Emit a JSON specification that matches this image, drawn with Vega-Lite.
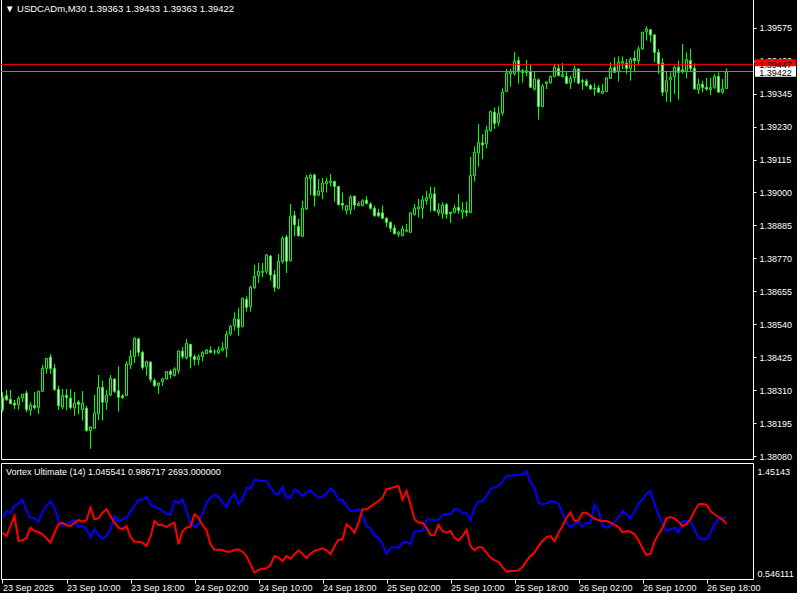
{
"$schema": "https://vega.github.io/schema/vega-lite/v6.json",
"background": "#000000",
"padding": {"left": -2, "top": -2, "right": 0, "bottom": 0},
"spacing": 0,
"config": {
  "view": {"stroke": "#ffffff", "strokeWidth": 1},
  "font": "Liberation Sans",
  "axis": {"labelColor": "#ffffff", "labelFont": "Liberation Sans", "labelFontSize": 9, "tickColor": "#ffffff", "domain": false, "grid": false, "title": null, "labelOverlap": false, "labelFlush": false},
  "title": {"color": "#ffffff", "font": "Liberation Sans", "fontWeight": "normal", "anchor": "start", "frame": "group", "baseline": "middle"}
},
"datasets": {
"px": [{"name": "ask", "price": 1.39447, "label": "1.39447"}, {"name": "bid", "price": 1.39422, "label": "1.39422"}],
"bars": [
{"i":0,"o":1.38285,"h":1.38303,"l":1.38233,"c":1.38242,"vp":1.041,"vm":0.909},
{"i":1,"o":1.38291,"h":1.38311,"l":1.38272,"c":1.38277,"vp":1.100,"vm":0.880},
{"i":2,"o":1.38278,"h":1.38311,"l":1.38261,"c":1.38263,"vp":1.085,"vm":0.968},
{"i":3,"o":1.38265,"h":1.38276,"l":1.38244,"c":1.38258,"vp":1.144,"vm":1.056},
{"i":4,"o":1.38260,"h":1.38289,"l":1.38242,"c":1.38282,"vp":1.164,"vm":0.836},
{"i":5,"o":1.38283,"h":1.38297,"l":1.38268,"c":1.38296,"vp":1.200,"vm":0.842},
{"i":6,"o":1.38300,"h":1.38308,"l":1.38233,"c":1.38242,"vp":1.100,"vm":0.865},
{"i":7,"o":1.38240,"h":1.38268,"l":1.38221,"c":1.38258,"vp":1.041,"vm":0.953},
{"i":8,"o":1.38257,"h":1.38303,"l":1.38242,"c":1.38249,"vp":1.035,"vm":0.924},
{"i":9,"o":1.38250,"h":1.38308,"l":1.38227,"c":1.38306,"vp":1.006,"vm":0.915},
{"i":10,"o":1.38306,"h":1.38398,"l":1.38303,"c":1.38386,"vp":1.094,"vm":0.895},
{"i":11,"o":1.38386,"h":1.38421,"l":1.38367,"c":1.38421,"vp":1.144,"vm":0.860},
{"i":12,"o":1.38425,"h":1.38436,"l":1.38367,"c":1.38386,"vp":1.188,"vm":0.821},
{"i":13,"o":1.38386,"h":1.38401,"l":1.38308,"c":1.38312,"vp":1.129,"vm":0.909},
{"i":14,"o":1.38313,"h":1.38326,"l":1.38241,"c":1.38256,"vp":1.012,"vm":0.983},
{"i":15,"o":1.38251,"h":1.38314,"l":1.38244,"c":1.38291,"vp":0.968,"vm":0.997},
{"i":16,"o":1.38292,"h":1.38314,"l":1.38239,"c":1.38284,"vp":0.989,"vm":0.974},
{"i":17,"o":1.38282,"h":1.38314,"l":1.38244,"c":1.38249,"vp":1.006,"vm":0.968},
{"i":18,"o":1.38248,"h":1.38303,"l":1.38221,"c":1.38264,"vp":1.018,"vm":0.997},
{"i":19,"o":1.38269,"h":1.38275,"l":1.38226,"c":1.38260,"vp":0.959,"vm":1.021},
{"i":20,"o":1.38242,"h":1.38307,"l":1.38204,"c":1.38264,"vp":0.968,"vm":1.006},
{"i":21,"o":1.38247,"h":1.38256,"l":1.38165,"c":1.38169,"vp":0.939,"vm":1.018},
{"i":22,"o":1.38169,"h":1.38182,"l":1.38105,"c":1.38182,"vp":0.871,"vm":1.129},
{"i":23,"o":1.38177,"h":1.38293,"l":1.38175,"c":1.38230,"vp":0.939,"vm":1.027},
{"i":24,"o":1.38228,"h":1.38363,"l":1.38206,"c":1.38320,"vp":0.889,"vm":1.035},
{"i":25,"o":1.38320,"h":1.38343,"l":1.38204,"c":1.38268,"vp":0.860,"vm":1.085},
{"i":26,"o":1.38268,"h":1.38311,"l":1.38242,"c":1.38293,"vp":0.880,"vm":1.115},
{"i":27,"o":1.38293,"h":1.38363,"l":1.38289,"c":1.38351,"vp":0.939,"vm":1.056},
{"i":28,"o":1.38349,"h":1.38351,"l":1.38300,"c":1.38306,"vp":1.056,"vm":0.997},
{"i":29,"o":1.38308,"h":1.38393,"l":1.38235,"c":1.38285,"vp":1.006,"vm":0.953},
{"i":30,"o":1.38290,"h":1.38297,"l":1.38279,"c":1.38284,"vp":1.027,"vm":0.939},
{"i":31,"o":1.38291,"h":1.38411,"l":1.38289,"c":1.38401,"vp":1.035,"vm":0.968},
{"i":32,"o":1.38398,"h":1.38450,"l":1.38384,"c":1.38428,"vp":1.100,"vm":0.871},
{"i":33,"o":1.38428,"h":1.38495,"l":1.38405,"c":1.38491,"vp":1.144,"vm":0.830},
{"i":34,"o":1.38489,"h":1.38493,"l":1.38428,"c":1.38442,"vp":1.194,"vm":0.830},
{"i":35,"o":1.38442,"h":1.38447,"l":1.38381,"c":1.38389,"vp":1.202,"vm":0.821},
{"i":36,"o":1.38392,"h":1.38413,"l":1.38361,"c":1.38410,"vp":1.223,"vm":0.792},
{"i":37,"o":1.38408,"h":1.38411,"l":1.38338,"c":1.38347,"vp":1.158,"vm":0.871},
{"i":38,"o":1.38344,"h":1.38351,"l":1.38321,"c":1.38326,"vp":1.135,"vm":1.012},
{"i":39,"o":1.38326,"h":1.38338,"l":1.38297,"c":1.38335,"vp":1.123,"vm":0.977},
{"i":40,"o":1.38340,"h":1.38354,"l":1.38324,"c":1.38349,"vp":1.100,"vm":0.977},
{"i":41,"o":1.38349,"h":1.38376,"l":1.38347,"c":1.38375,"vp":1.076,"vm":0.959},
{"i":42,"o":1.38376,"h":1.38382,"l":1.38351,"c":1.38365,"vp":1.071,"vm":0.983},
{"i":43,"o":1.38361,"h":1.38390,"l":1.38358,"c":1.38384,"vp":1.188,"vm":0.997},
{"i":44,"o":1.38378,"h":1.38449,"l":1.38367,"c":1.38447,"vp":1.167,"vm":0.807},
{"i":45,"o":1.38446,"h":1.38460,"l":1.38419,"c":1.38427,"vp":1.202,"vm":0.924},
{"i":46,"o":1.38423,"h":1.38489,"l":1.38417,"c":1.38474,"vp":1.100,"vm":0.953},
{"i":47,"o":1.38470,"h":1.38470,"l":1.38386,"c":1.38427,"vp":0.997,"vm":0.962},
{"i":48,"o":1.38427,"h":1.38435,"l":1.38396,"c":1.38417,"vp":0.959,"vm":1.071},
{"i":49,"o":1.38417,"h":1.38435,"l":1.38398,"c":1.38427,"vp":0.983,"vm":1.041},
{"i":50,"o":1.38427,"h":1.38445,"l":1.38410,"c":1.38442,"vp":1.076,"vm":0.977},
{"i":51,"o":1.38438,"h":1.38454,"l":1.38435,"c":1.38450,"vp":1.173,"vm":0.930},
{"i":52,"o":1.38449,"h":1.38463,"l":1.38438,"c":1.38442,"vp":1.217,"vm":0.807},
{"i":53,"o":1.38444,"h":1.38453,"l":1.38434,"c":1.38444,"vp":1.246,"vm":0.760},
{"i":54,"o":1.38441,"h":1.38463,"l":1.38435,"c":1.38450,"vp":1.223,"vm":0.760},
{"i":55,"o":1.38449,"h":1.38477,"l":1.38445,"c":1.38457,"vp":1.173,"vm":0.757},
{"i":56,"o":1.38456,"h":1.38517,"l":1.38424,"c":1.38505,"vp":1.135,"vm":0.742},
{"i":57,"o":1.38506,"h":1.38538,"l":1.38500,"c":1.38533,"vp":1.211,"vm":0.742},
{"i":58,"o":1.38535,"h":1.38582,"l":1.38518,"c":1.38559,"vp":1.252,"vm":0.757},
{"i":59,"o":1.38557,"h":1.38596,"l":1.38500,"c":1.38529,"vp":1.158,"vm":0.763},
{"i":60,"o":1.38532,"h":1.38633,"l":1.38529,"c":1.38631,"vp":1.202,"vm":0.742},
{"i":61,"o":1.38627,"h":1.38638,"l":1.38584,"c":1.38599,"vp":1.305,"vm":0.704},
{"i":62,"o":1.38602,"h":1.38675,"l":1.38584,"c":1.38669,"vp":1.296,"vm":0.631},
{"i":63,"o":1.38668,"h":1.38747,"l":1.38663,"c":1.38707,"vp":1.378,"vm":0.558},
{"i":64,"o":1.38710,"h":1.38754,"l":1.38684,"c":1.38725,"vp":1.369,"vm":0.581},
{"i":65,"o":1.38721,"h":1.38754,"l":1.38704,"c":1.38725,"vp":1.364,"vm":0.593},
{"i":66,"o":1.38725,"h":1.38785,"l":1.38716,"c":1.38782,"vp":1.364,"vm":0.596},
{"i":67,"o":1.38778,"h":1.38782,"l":1.38692,"c":1.38712,"vp":1.311,"vm":0.625},
{"i":68,"o":1.38713,"h":1.38730,"l":1.38654,"c":1.38669,"vp":1.252,"vm":0.704},
{"i":69,"o":1.38666,"h":1.38785,"l":1.38663,"c":1.38760,"vp":1.246,"vm":0.690},
{"i":70,"o":1.38759,"h":1.38847,"l":1.38751,"c":1.38840,"vp":1.311,"vm":0.660},
{"i":71,"o":1.38844,"h":1.38852,"l":1.38719,"c":1.38760,"vp":1.217,"vm":0.704},
{"i":72,"o":1.38762,"h":1.38960,"l":1.38759,"c":1.38917,"vp":1.217,"vm":0.681},
{"i":73,"o":1.38919,"h":1.38935,"l":1.38847,"c":1.38887,"vp":1.290,"vm":0.719},
{"i":74,"o":1.38881,"h":1.38908,"l":1.38846,"c":1.38849,"vp":1.270,"vm":0.754},
{"i":75,"o":1.38847,"h":1.38971,"l":1.38846,"c":1.38945,"vp":1.232,"vm":0.725},
{"i":76,"o":1.38942,"h":1.39061,"l":1.38939,"c":1.39053,"vp":1.261,"vm":0.684},
{"i":77,"o":1.39049,"h":1.39065,"l":1.38991,"c":1.39061,"vp":1.282,"vm":0.725},
{"i":78,"o":1.39061,"h":1.39066,"l":1.38951,"c":1.38989,"vp":1.246,"vm":0.748},
{"i":79,"o":1.38991,"h":1.39047,"l":1.38987,"c":1.39005,"vp":1.223,"vm":0.760},
{"i":80,"o":1.39003,"h":1.39051,"l":1.38977,"c":1.39033,"vp":1.226,"vm":0.772},
{"i":81,"o":1.39031,"h":1.39051,"l":1.39000,"c":1.39038,"vp":1.252,"vm":0.754},
{"i":82,"o":1.39034,"h":1.39065,"l":1.39021,"c":1.39040,"vp":1.299,"vm":0.719},
{"i":83,"o":1.39039,"h":1.39039,"l":1.38968,"c":1.39021,"vp":1.270,"vm":0.792},
{"i":84,"o":1.39021,"h":1.39021,"l":1.38954,"c":1.38958,"vp":1.194,"vm":0.845},
{"i":85,"o":1.38962,"h":1.39000,"l":1.38940,"c":1.38956,"vp":1.202,"vm":0.851},
{"i":86,"o":1.38937,"h":1.38956,"l":1.38923,"c":1.38954,"vp":1.144,"vm":0.983},
{"i":87,"o":1.38940,"h":1.38991,"l":1.38923,"c":1.38983,"vp":1.100,"vm":0.953},
{"i":88,"o":1.38987,"h":1.38989,"l":1.38940,"c":1.38956,"vp":1.100,"vm":0.909},
{"i":89,"o":1.38954,"h":1.38969,"l":1.38952,"c":1.38961,"vp":1.115,"vm":0.997},
{"i":90,"o":1.38954,"h":1.38977,"l":1.38951,"c":1.38971,"vp":1.065,"vm":1.115},
{"i":91,"o":1.38973,"h":1.38987,"l":1.38958,"c":1.38962,"vp":0.968,"vm":1.115},
{"i":92,"o":1.38960,"h":1.38966,"l":1.38940,"c":1.38945,"vp":0.947,"vm":1.138},
{"i":93,"o":1.38945,"h":1.38954,"l":1.38915,"c":1.38919,"vp":0.880,"vm":1.164},
{"i":94,"o":1.38929,"h":1.38942,"l":1.38913,"c":1.38919,"vp":0.865,"vm":1.188},
{"i":95,"o":1.38929,"h":1.38954,"l":1.38908,"c":1.38910,"vp":0.807,"vm":1.217},
{"i":96,"o":1.38910,"h":1.38913,"l":1.38879,"c":1.38896,"vp":0.725,"vm":1.290},
{"i":97,"o":1.38896,"h":1.38898,"l":1.38863,"c":1.38875,"vp":0.772,"vm":1.299},
{"i":98,"o":1.38876,"h":1.38887,"l":1.38854,"c":1.38856,"vp":0.783,"vm":1.311},
{"i":99,"o":1.38854,"h":1.38866,"l":1.38845,"c":1.38860,"vp":0.778,"vm":1.320},
{"i":100,"o":1.38849,"h":1.38884,"l":1.38847,"c":1.38873,"vp":0.821,"vm":1.202},
{"i":101,"o":1.38865,"h":1.38890,"l":1.38861,"c":1.38869,"vp":0.827,"vm":1.276},
{"i":102,"o":1.38861,"h":1.38931,"l":1.38859,"c":1.38929,"vp":0.807,"vm":1.158},
{"i":103,"o":1.38923,"h":1.38960,"l":1.38919,"c":1.38946,"vp":0.918,"vm":1.027},
{"i":104,"o":1.38942,"h":1.38977,"l":1.38913,"c":1.38949,"vp":0.924,"vm":0.997},
{"i":105,"o":1.38945,"h":1.38989,"l":1.38908,"c":1.38974,"vp":0.924,"vm":0.997},
{"i":106,"o":1.38972,"h":1.39005,"l":1.38957,"c":1.38982,"vp":1.024,"vm":0.953},
{"i":107,"o":1.38980,"h":1.39020,"l":1.38933,"c":1.38995,"vp":1.027,"vm":0.889},
{"i":108,"o":1.38995,"h":1.39019,"l":1.38933,"c":1.38937,"vp":1.021,"vm":0.889},
{"i":109,"o":1.38929,"h":1.38963,"l":1.38919,"c":1.38939,"vp":1.024,"vm":0.977},
{"i":110,"o":1.38927,"h":1.38966,"l":1.38908,"c":1.38956,"vp":1.062,"vm":0.924},
{"i":111,"o":1.38958,"h":1.38963,"l":1.38908,"c":1.38924,"vp":1.071,"vm":0.909},
{"i":112,"o":1.38931,"h":1.38931,"l":1.38894,"c":1.38927,"vp":1.071,"vm":0.924},
{"i":113,"o":1.38931,"h":1.38958,"l":1.38927,"c":1.38946,"vp":1.115,"vm":0.865},
{"i":114,"o":1.38948,"h":1.38995,"l":1.38925,"c":1.38937,"vp":1.115,"vm":0.842},
{"i":115,"o":1.38931,"h":1.38966,"l":1.38908,"c":1.38939,"vp":1.079,"vm":0.880},
{"i":116,"o":1.38936,"h":1.38968,"l":1.38916,"c":1.38930,"vp":1.079,"vm":0.933},
{"i":117,"o":1.38930,"h":1.39124,"l":1.38929,"c":1.39059,"vp":1.018,"vm":0.792},
{"i":118,"o":1.39059,"h":1.39161,"l":1.39038,"c":1.39140,"vp":1.129,"vm":0.754},
{"i":119,"o":1.39138,"h":1.39239,"l":1.39090,"c":1.39175,"vp":1.182,"vm":0.783},
{"i":120,"o":1.39173,"h":1.39204,"l":1.39117,"c":1.39166,"vp":1.188,"vm":0.778},
{"i":121,"o":1.39170,"h":1.39233,"l":1.39154,"c":1.39217,"vp":1.232,"vm":0.734},
{"i":122,"o":1.39216,"h":1.39286,"l":1.39212,"c":1.39282,"vp":1.296,"vm":0.690},
{"i":123,"o":1.39280,"h":1.39297,"l":1.39222,"c":1.39241,"vp":1.305,"vm":0.666},
{"i":124,"o":1.39244,"h":1.39301,"l":1.39231,"c":1.39276,"vp":1.320,"vm":0.654},
{"i":125,"o":1.39277,"h":1.39363,"l":1.39268,"c":1.39350,"vp":1.358,"vm":0.608},
{"i":126,"o":1.39352,"h":1.39431,"l":1.39350,"c":1.39417,"vp":1.408,"vm":0.567},
{"i":127,"o":1.39414,"h":1.39431,"l":1.39369,"c":1.39422,"vp":1.410,"vm":0.572},
{"i":128,"o":1.39414,"h":1.39491,"l":1.39408,"c":1.39458,"vp":1.416,"vm":0.572},
{"i":129,"o":1.39461,"h":1.39474,"l":1.39380,"c":1.39424,"vp":1.416,"vm":0.578},
{"i":130,"o":1.39425,"h":1.39431,"l":1.39384,"c":1.39419,"vp":1.422,"vm":0.608},
{"i":131,"o":1.39419,"h":1.39462,"l":1.39406,"c":1.39425,"vp":1.451,"vm":0.660},
{"i":132,"o":1.39422,"h":1.39448,"l":1.39365,"c":1.39367,"vp":1.349,"vm":0.704},
{"i":133,"o":1.39361,"h":1.39423,"l":1.39355,"c":1.39396,"vp":1.305,"vm":0.734},
{"i":134,"o":1.39393,"h":1.39398,"l":1.39254,"c":1.39300,"vp":1.173,"vm":0.792},
{"i":135,"o":1.39300,"h":1.39379,"l":1.39297,"c":1.39371,"vp":1.158,"vm":0.836},
{"i":136,"o":1.39380,"h":1.39386,"l":1.39361,"c":1.39386,"vp":1.167,"vm":0.871},
{"i":137,"o":1.39384,"h":1.39408,"l":1.39379,"c":1.39405,"vp":1.188,"vm":0.880},
{"i":138,"o":1.39405,"h":1.39448,"l":1.39402,"c":1.39437,"vp":1.182,"vm":0.836},
{"i":139,"o":1.39433,"h":1.39448,"l":1.39405,"c":1.39408,"vp":1.164,"vm":0.909},
{"i":140,"o":1.39405,"h":1.39452,"l":1.39401,"c":1.39411,"vp":1.085,"vm":0.968},
{"i":141,"o":1.39405,"h":1.39423,"l":1.39378,"c":1.39381,"vp":0.997,"vm":1.041},
{"i":142,"o":1.39382,"h":1.39408,"l":1.39361,"c":1.39398,"vp":0.959,"vm":1.085},
{"i":143,"o":1.39401,"h":1.39443,"l":1.39384,"c":1.39431,"vp":0.983,"vm":1.012},
{"i":144,"o":1.39431,"h":1.39433,"l":1.39378,"c":1.39381,"vp":1.006,"vm":1.018},
{"i":145,"o":1.39390,"h":1.39396,"l":1.39358,"c":1.39386,"vp":0.959,"vm":1.085},
{"i":146,"o":1.39389,"h":1.39396,"l":1.39369,"c":1.39373,"vp":0.997,"vm":1.085},
{"i":147,"o":1.39373,"h":1.39379,"l":1.39358,"c":1.39361,"vp":0.997,"vm":1.056},
{"i":148,"o":1.39364,"h":1.39381,"l":1.39338,"c":1.39361,"vp":1.158,"vm":1.035},
{"i":149,"o":1.39365,"h":1.39375,"l":1.39347,"c":1.39350,"vp":1.100,"vm":1.018},
{"i":150,"o":1.39346,"h":1.39379,"l":1.39344,"c":1.39354,"vp":0.968,"vm":1.012},
{"i":151,"o":1.39352,"h":1.39402,"l":1.39350,"c":1.39400,"vp":0.953,"vm":1.012},
{"i":152,"o":1.39398,"h":1.39454,"l":1.39396,"c":1.39434,"vp":0.968,"vm":0.997},
{"i":153,"o":1.39436,"h":1.39472,"l":1.39417,"c":1.39419,"vp":1.006,"vm":0.977},
{"i":154,"o":1.39422,"h":1.39475,"l":1.39387,"c":1.39454,"vp":1.041,"vm":0.959},
{"i":155,"o":1.39451,"h":1.39475,"l":1.39431,"c":1.39457,"vp":1.100,"vm":0.912},
{"i":156,"o":1.39451,"h":1.39466,"l":1.39414,"c":1.39433,"vp":1.071,"vm":0.924},
{"i":157,"o":1.39433,"h":1.39472,"l":1.39390,"c":1.39464,"vp":1.035,"vm":0.918},
{"i":158,"o":1.39468,"h":1.39495,"l":1.39424,"c":1.39460,"vp":1.094,"vm":0.895},
{"i":159,"o":1.39460,"h":1.39510,"l":1.39443,"c":1.39501,"vp":1.164,"vm":0.842},
{"i":160,"o":1.39501,"h":1.39561,"l":1.39498,"c":1.39559,"vp":1.202,"vm":0.772},
{"i":161,"o":1.39561,"h":1.39580,"l":1.39530,"c":1.39571,"vp":1.252,"vm":0.713},
{"i":162,"o":1.39568,"h":1.39571,"l":1.39524,"c":1.39550,"vp":1.276,"vm":0.725},
{"i":163,"o":1.39550,"h":1.39553,"l":1.39454,"c":1.39489,"vp":1.158,"vm":0.830},
{"i":164,"o":1.39489,"h":1.39501,"l":1.39414,"c":1.39448,"vp":1.071,"vm":0.895},
{"i":165,"o":1.39451,"h":1.39468,"l":1.39336,"c":1.39350,"vp":0.983,"vm":0.953},
{"i":166,"o":1.39352,"h":1.39425,"l":1.39317,"c":1.39390,"vp":0.924,"vm":1.035},
{"i":167,"o":1.39394,"h":1.39419,"l":1.39315,"c":1.39402,"vp":0.939,"vm":1.047},
{"i":168,"o":1.39404,"h":1.39443,"l":1.39344,"c":1.39437,"vp":0.953,"vm":1.035},
{"i":169,"o":1.39437,"h":1.39460,"l":1.39324,"c":1.39419,"vp":0.909,"vm":1.006},
{"i":170,"o":1.39428,"h":1.39518,"l":1.39414,"c":1.39422,"vp":1.006,"vm":0.968},
{"i":171,"o":1.39423,"h":1.39489,"l":1.39398,"c":1.39464,"vp":1.012,"vm":0.983},
{"i":172,"o":1.39460,"h":1.39501,"l":1.39422,"c":1.39433,"vp":1.006,"vm":1.027},
{"i":173,"o":1.39433,"h":1.39451,"l":1.39359,"c":1.39361,"vp":0.939,"vm":1.100},
{"i":174,"o":1.39359,"h":1.39398,"l":1.39344,"c":1.39378,"vp":0.865,"vm":1.158},
{"i":175,"o":1.39378,"h":1.39390,"l":1.39350,"c":1.39366,"vp":0.851,"vm":1.164},
{"i":176,"o":1.39367,"h":1.39400,"l":1.39355,"c":1.39361,"vp":0.851,"vm":1.153},
{"i":177,"o":1.39359,"h":1.39400,"l":1.39340,"c":1.39366,"vp":0.909,"vm":1.100},
{"i":178,"o":1.39367,"h":1.39414,"l":1.39361,"c":1.39405,"vp":0.983,"vm":1.071},
{"i":179,"o":1.39405,"h":1.39419,"l":1.39347,"c":1.39350,"vp":1.027,"vm":1.047},
{"i":180,"o":1.39350,"h":1.39396,"l":1.39344,"c":1.39361,"vp":1.041,"vm":1.024},
{"i":181,"o":1.39363,"h":1.39433,"l":1.39363,"c":1.39422,"vp":1.0455,"vm":0.9867}
]
},
"vconcat": [
{
  "width": 752,
  "height": 460,
  "title": {"text": "▼  USDCADm,M30  1.39363 1.39433 1.39363 1.39422", "fontSize": 9.5, "offset": -14, "dx": 4},
  "layer": [
    {"data": {"name": "bars"}, "mark": {"type": "rule", "color": "#00ff00", "strokeWidth": 1},
     "encoding": {
       "x": {"field": "i", "type": "quantitative", "scale": {"domain": [-0.375, 187.625], "nice": false, "zero": false, "padding": 0}, "axis": null},
       "y": {"field": "l", "type": "quantitative", "scale": {"domain": [1.380698, 1.396752], "nice": false, "zero": false, "padding": 0},
             "axis": {"orient": "right", "values": [1.3808, 1.38195, 1.3831, 1.38425, 1.3854, 1.38655, 1.3877, 1.38885, 1.39, 1.39115, 1.3923, 1.39345, 1.3946, 1.39575], "tickCount": 30, "format": ".5f", "tickSize": 3, "labelPadding": 3, "labelOverlap": false, "labelBound": false}},
       "y2": {"field": "h"}
     }},
    {"data": {"name": "bars"}, "mark": {"type": "bar", "size": 2, "stroke": "#00ff00", "strokeWidth": 1},
     "encoding": {
       "x": {"field": "i", "type": "quantitative"},
       "y": {"field": "o", "type": "quantitative"},
       "y2": {"field": "c"},
       "fill": {"condition": {"test": "datum.c > datum.o", "value": "#000000"}, "value": "#ffffff"}
     }},
    {"data": {"name": "px"}, "mark": {"type": "rule", "strokeWidth": 1},
     "encoding": {
       "y": {"field": "price", "type": "quantitative"},
       "color": {"field": "name", "type": "nominal", "scale": {"domain": ["ask", "bid"], "range": ["#ff0000", "#778899"]}, "legend": null}
     }},
    {"data": {"name": "px"}, "mark": {"type": "bar", "orient": "horizontal", "size": 10.5},
     "encoding": {
       "x": {"datum": 188.125},
       "x2": {"datum": 198.375},
       "y": {"field": "price", "type": "quantitative"},
       "fill": {"field": "name", "type": "nominal", "scale": {"domain": ["ask", "bid"], "range": ["#ff0000", "#ffffff"]}, "legend": null}
     }},
    {"data": {"name": "px"}, "mark": {"type": "text", "align": "center", "baseline": "middle", "fontSize": 9, "font": "Liberation Sans", "color": "#000000", "dy": 1},
     "encoding": {
       "x": {"datum": 193.25},
       "y": {"field": "price", "type": "quantitative"},
       "text": {"field": "label"}
     }}
  ]
},
{
  "width": 752,
  "height": 116,
  "title": {"text": "Vortex Ultimate (14)  1.045541 0.986717 2693.000000", "fontSize": 9, "offset": -14, "dx": 5},
  "data": {"name": "bars"},
  "layer": [
    {"mark": {"type": "line", "color": "#0000ff", "strokeWidth": 2},
     "encoding": {
       "x": {"field": "i", "type": "quantitative", "scale": {"domain": [-0.375, 187.625], "nice": false, "zero": false, "padding": 0},
             "axis": {"orient": "bottom", "values": [0, 16, 32, 48, 64, 80, 96, 112, 128, 144, 160, 176], "tickCount": 30,
                      "labelExpr": "['23 Sep 2025','23 Sep 10:00','23 Sep 18:00','24 Sep 02:00','24 Sep 10:00','24 Sep 18:00','25 Sep 02:00','25 Sep 10:00','25 Sep 18:00','26 Sep 02:00','26 Sep 10:00','26 Sep 18:00'][round(datum.value/16)]",
                      "labelAlign": "left", "labelBaseline": "middle", "tickSize": 4, "labelPadding": 4}},
       "y": {"field": "vp", "type": "quantitative", "scale": {"domain": [0.50216, 1.52175], "nice": false, "zero": false, "padding": 0},
             "axis": {"orient": "right", "values": [1.45143, 0.546111], "format": ".6r", "ticks": false, "labelPadding": 4, "labelOverlap": false}}
     }},
    {"mark": {"type": "line", "color": "#ff0000", "strokeWidth": 2},
     "encoding": {
       "x": {"field": "i", "type": "quantitative"},
       "y": {"field": "vm", "type": "quantitative"}
     }}
  ]
}
]
}
